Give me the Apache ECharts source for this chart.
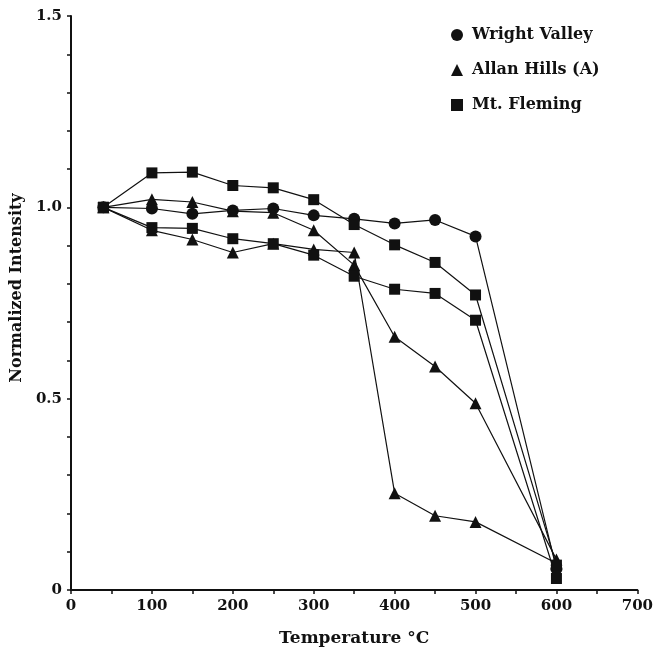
<!DOCTYPE html>
<html>
<head>
<meta charset="utf-8">
<script src="https://cdn.jsdelivr.net/npm/echarts@6/dist/echarts.min.js"></script>
<style>
  html, body { margin: 0; padding: 0; background: #fff; }
  #chart { width: 656px; height: 652px; }
</style>
</head>
<body>
<div id="chart"></div>
<script>
// temperatures (°C) of each heating step
const temps = [40, 100, 150, 200, 250, 300, 350, 400, 450, 500, 600]

// normalized intensity
const wrightValley = [1.0, 0.997, 0.983, 0.992, 0.997, 0.979, 0.970, 0.958, 0.967, 0.924, 0.055]
const allanHillsA1 = [1.0, 1.021, 1.014, 0.99, 0.986, 0.94, 0.849, 0.662, 0.584, 0.488, 0.08]
const allanHillsA2 = [1.0, 0.94, 0.916, 0.882, 0.905, 0.89, 0.882, 0.253, 0.194, 0.178, 0.07]
const mtFleming1 = [1.0, 1.09, 1.092, 1.057, 1.051, 1.02, 0.955, 0.902, 0.856, 0.771, 0.065]
const mtFleming2 = [1.0, 0.947, 0.945, 0.918, 0.905, 0.875, 0.82, 0.786, 0.775, 0.705, 0.03]

const legendNames = ['Wright Valley', 'Allan Hills (A)', 'Mt. Fleming']
const legendIcons = ['circle', 'triangle', 'rect']

const ink = '#111'
const serif = 'DejaVu Serif'

const pairs = vals => temps.map((t, i) => [t, vals[i]])

const makeSeries = (name, vals, symbol, size) => ({
  name: name,
  type: 'line',
  data: pairs(vals),
  symbol: symbol,
  symbolSize: size,
  lineStyle: { color: ink, width: 1.2 },
  itemStyle: { color: ink },
  animation: false
})

const chart = echarts.init(document.getElementById('chart'))

chart.setOption({
  backgroundColor: '#fff',
  grid: { left: 71, right: 16, top: 16, bottom: 61, containLabel: false },
  legend: {
    orient: 'vertical',
    left: 446,
    top: 22,
    itemWidth: 12,
    itemHeight: 12,
    itemGap: 19,
    selectedMode: false,
    textStyle: { fontFamily: serif, fontWeight: 'bold', fontSize: 16, color: ink, padding: [0, 0, 0, 4] },
    data: legendNames.map((n, i) => ({ name: n, icon: legendIcons[i] }))
  },
  xAxis: {
    type: 'value',
    min: 0,
    max: 700,
    interval: 100,
    name: 'Temperature °C',
    nameLocation: 'middle',
    nameGap: 40,
    nameTextStyle: { fontFamily: serif, fontWeight: 'bold', fontSize: 17, color: ink },
    axisLine: { lineStyle: { color: ink, width: 2 } },
    axisTick: { length: 4, lineStyle: { color: ink, width: 1.5 } },
    minorTick: { show: true, splitNumber: 2, length: 4, lineStyle: { color: ink, width: 1.5 } },
    splitLine: { show: false },
    axisLabel: { fontFamily: serif, fontWeight: 'bold', fontSize: 15, color: ink, margin: 9 }
  },
  yAxis: {
    type: 'value',
    min: 0,
    max: 1.5,
    interval: 0.5,
    name: 'Normalized Intensity',
    nameLocation: 'middle',
    nameGap: 42,
    nameTextStyle: {
      fontFamily: serif, fontWeight: 'bold', fontSize: 16, color: ink,
      padding: [0, 0, 0, 30]
    },
    axisLine: { show: true, lineStyle: { color: ink, width: 2 } },
    axisTick: { show: true, length: 4, lineStyle: { color: ink, width: 1.5 } },
    minorTick: { show: true, splitNumber: 5, length: 4, lineStyle: { color: ink, width: 1.5 } },
    splitLine: { show: false },
    axisLabel: {
      fontFamily: serif, fontWeight: 'bold', fontSize: 15, color: ink, margin: 9,
      formatter: v => (v === 0 ? '0' : v.toFixed(1))
    }
  },
  series: [
    makeSeries('Wright Valley', wrightValley, 'circle', 12),
    makeSeries('Allan Hills (A)', allanHillsA1, 'triangle', 12),
    makeSeries('Allan Hills (A)', allanHillsA2, 'triangle', 12),
    makeSeries('Mt. Fleming', mtFleming1, 'rect', 11),
    makeSeries('Mt. Fleming', mtFleming2, 'rect', 11)
  ]
})
</script>
</body>
</html>
